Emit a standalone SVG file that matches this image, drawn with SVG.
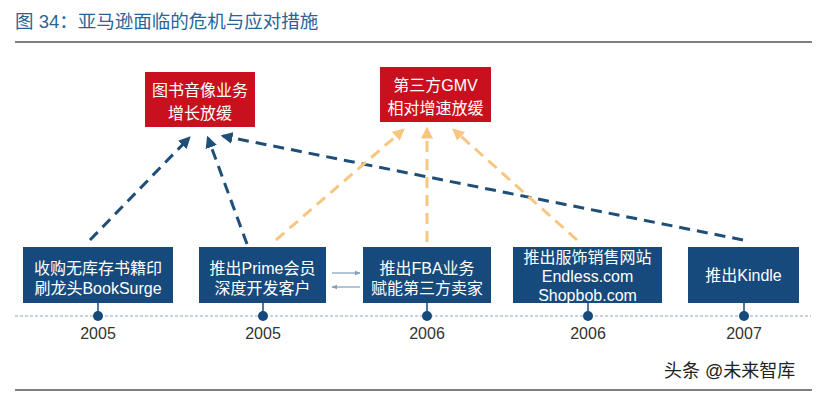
<svg xmlns="http://www.w3.org/2000/svg" width="826" height="394" viewBox="0 0 826 394">
<style>
.cjk{font-family:"Liberation Sans","Noto Sans CJK SC",sans-serif}
.title{font-size:18.5px;fill:#2a6496}
.box{fill:#174a7c}
.red{fill:#c8101e}
.bt{font-size:16px;fill:#fff;text-anchor:middle}
.yr{font-size:16px;fill:#333;text-anchor:middle}
.dk{stroke:#1f4e79;stroke-width:3;stroke-dasharray:11 7;fill:none}
.or{stroke:#f8c67f;stroke-width:3;stroke-dasharray:11 7;fill:none}
.dot{fill:#174a7c}
</style>
<defs>
<marker id="ad" viewBox="0 0 10 10" refX="8" refY="5" markerWidth="4" markerHeight="4" orient="auto" markerUnits="strokeWidth"><path d="M0,0 L10,5 L0,10 z" fill="#1f4e79"/></marker>
<marker id="ao" viewBox="0 0 10 10" refX="8" refY="5" markerWidth="4" markerHeight="4" orient="auto" markerUnits="strokeWidth"><path d="M0,0 L10,5 L0,10 z" fill="#f8c67f"/></marker>
<marker id="as" viewBox="0 0 10 10" refX="9" refY="5" markerWidth="6" markerHeight="6" orient="auto" markerUnits="userSpaceOnUse"><path d="M0,1 L10,5 L0,9 z" fill="#7f9fbf"/></marker>
</defs>
<text class="cjk title" x="15" y="28">图 34：亚马逊面临的危机与应对措施</text>
<rect x="15" y="41" width="797" height="2" fill="#7f7f7f"/>
<g id="timeline">
<line x1="15" y1="316" x2="811" y2="316" stroke="#8aa6c4" stroke-width="1.2" stroke-dasharray="3 2"/>
</g>
<g id="connectors">
<line class="dk" x1="90" y1="240" x2="189" y2="138" marker-end="url(#ad)"/>
<line class="dk" x1="247" y1="244" x2="208" y2="138" marker-end="url(#ad)"/>
<line class="dk" x1="743" y1="240" x2="223" y2="136" marker-end="url(#ad)"/>
<line class="or" x1="276" y1="240" x2="403" y2="130" marker-end="url(#ao)"/>
<line class="or" x1="427" y1="242" x2="427" y2="129" marker-end="url(#ao)"/>
<line class="or" x1="577" y1="240" x2="454" y2="130" marker-end="url(#ao)"/>
<line x1="332" y1="273" x2="360" y2="273" stroke="#7f9fbf" stroke-width="1.2" marker-end="url(#as)"/>
<line x1="360" y1="287" x2="332" y2="287" stroke="#7f9fbf" stroke-width="1.2" marker-end="url(#as)"/>
</g>
<g id="crisis1">
<rect class="red" x="145" y="72" width="110" height="55"/>
<text class="cjk bt" x="200" y="96">图书音像业务</text>
<text class="cjk bt" x="200" y="119">增长放缓</text>
</g>
<g id="crisis2">
<rect class="red" x="380" y="67" width="111" height="55"/>
<text class="cjk bt" x="435.5" y="91">第三方GMV</text>
<text class="cjk bt" x="435.5" y="114">相对增速放缓</text>
</g>
<g id="booksurge">
<rect class="box" x="23" y="247" width="150" height="56"/>
<text class="cjk bt" x="98" y="274">收购无库存书籍印</text>
<text class="cjk bt" x="98" y="294">刷龙头BookSurge</text>
<line x1="98" y1="303" x2="98" y2="316" stroke="#174a7c" stroke-width="1.5"/>
<circle class="dot" cx="98" cy="316" r="5"/>
<text class="cjk yr" x="98" y="339">2005</text>
</g>
<g id="prime">
<rect class="box" x="199" y="247" width="127" height="56"/>
<text class="cjk bt" x="262.5" y="274">推出Prime会员</text>
<text class="cjk bt" x="262.5" y="294">深度开发客户</text>
<line x1="263" y1="303" x2="263" y2="316" stroke="#174a7c" stroke-width="1.5"/>
<circle class="dot" cx="263" cy="316" r="5"/>
<text class="cjk yr" x="263" y="339">2005</text>
</g>
<g id="fba">
<rect class="box" x="363" y="247" width="128" height="56"/>
<text class="cjk bt" x="427" y="274">推出FBA业务</text>
<text class="cjk bt" x="427" y="294">赋能第三方卖家</text>
<line x1="427" y1="303" x2="427" y2="316" stroke="#174a7c" stroke-width="1.5"/>
<circle class="dot" cx="427" cy="316" r="5"/>
<text class="cjk yr" x="427" y="339">2006</text>
</g>
<g id="apparel">
<rect class="box" x="513" y="247" width="149" height="56"/>
<text class="cjk bt" x="587.5" y="263">推出服饰销售网站</text>
<text class="cjk bt" x="587.5" y="282">Endless.com</text>
<text class="cjk bt" x="587.5" y="301">Shopbob.com</text>
<line x1="588" y1="303" x2="588" y2="316" stroke="#174a7c" stroke-width="1.5"/>
<circle class="dot" cx="588" cy="316" r="5"/>
<text class="cjk yr" x="588" y="339">2006</text>
</g>
<g id="kindle">
<rect class="box" x="688" y="247" width="111" height="56"/>
<text class="cjk bt" x="743.5" y="281">推出Kindle</text>
<line x1="744" y1="303" x2="744" y2="316" stroke="#174a7c" stroke-width="1.5"/>
<circle class="dot" cx="744" cy="316" r="5"/>
<text class="cjk yr" x="744" y="339">2007</text>
</g>
<text class="cjk" x="664" y="377" font-size="18" fill="#222">头条 @未来智库</text>
<rect x="15" y="389" width="797" height="2" fill="#7f7f7f"/>
</svg>
